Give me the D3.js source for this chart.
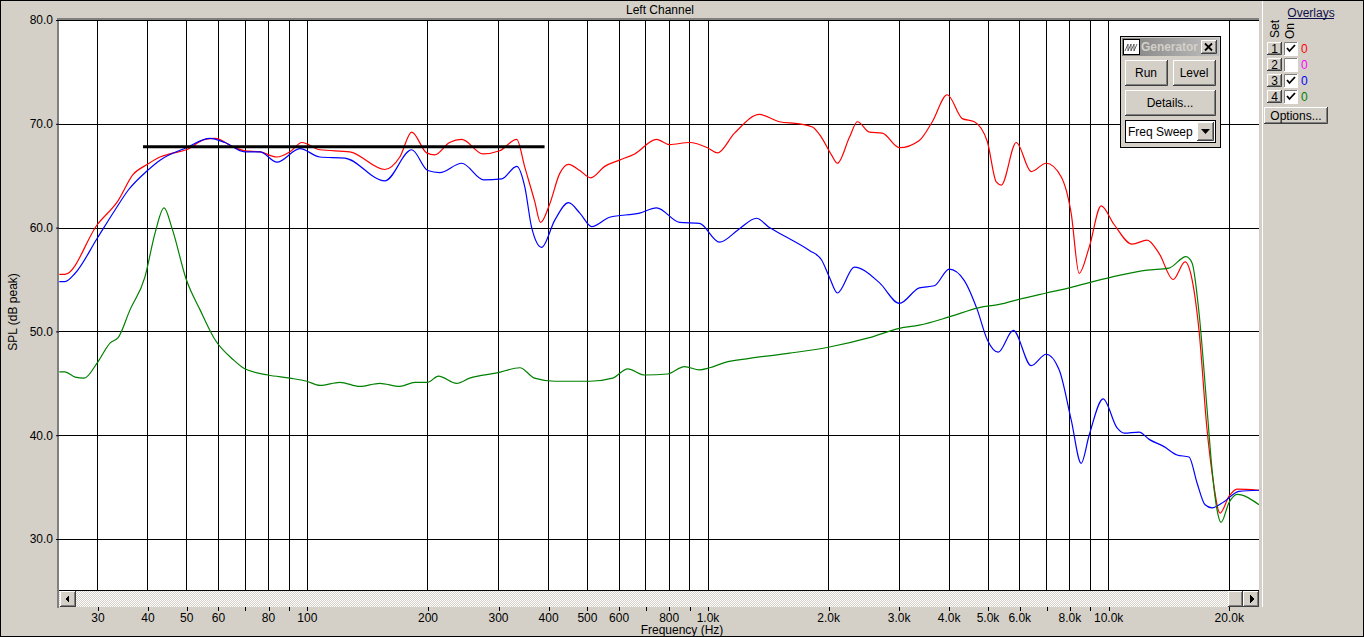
<!DOCTYPE html>
<html><head><meta charset="utf-8">
<script src="https://cdn.jsdelivr.net/npm/d3@7"></script>
<style>
body{margin:0;background:#d4d0c8;overflow:hidden}
text{font-family:"Liberation Sans",Arial,sans-serif;font-size:12px}
</style>
</head><body><svg id="c" width="1364" height="637"></svg>
<script>
// ---------- DATA ----------
const redHz=[24.1,24.9,30,33.8,36.8,40,43,45.5,50,55.7,59,66.1,70,76.4,84.2,90.7,97.2,107.8,128,156.5,170.6,182.7,199,208.5,227,243.5,275,303,334,350,370,383,404,427.5,450,480,511,554,603,658,746,804,902,1000,1059,1168,1348,1512,1696,1828,1925,2039,2110,2261,2367,2535,2732,3012,3379,3640,3967,4325,4634,4993,5257,5411,5898,6427,7004,7634,8085,8465,8966,9606,10350,11480,12510,13410,14530,15560,16200,16860,17660,18170,19030,20030,20970,23800];
const redDb=[55.5,55.5,60.3,62.6,65.1,66.1,66.8,67.1,67.5,68.5,68.6,67.7,67.4,67.3,66.8,67.3,68.2,67.5,67.3,65.6,66.8,69.2,67.2,67.0,68.2,68.5,67.1,67.4,68.5,65.8,62.6,60.5,62.3,65.2,66.1,65.5,64.8,65.9,66.5,67.1,68.5,68.0,68.2,67.7,67.2,69.1,70.9,70.2,70.0,69.7,68.7,67.0,66.2,68.7,70.2,69.2,69.1,67.7,68.4,70.2,72.8,70.5,70.2,68.3,64.4,64.1,68.2,65.4,66.2,64.9,61.4,55.6,58.1,62.1,60.3,58.4,58.8,57.5,55.0,56.7,55.0,50.1,40.5,36.4,32.5,34.1,34.8,34.7];

const blueHz=[24.1,24.9,26.4,30,33.2,35.8,40,43,50,57.3,62.4,70,76.4,84.2,96.1,107.8,124.4,156.5,182.7,200.3,214.6,243.5,276.4,306.4,334,350,364,385.5,415.5,450,480,514,570,677,746,852,955,1071,1202,1325,1427,1556,1796,1925,2016,2110,2326,2685,3012,3379,3683,4013,4375,4713,4993,5318,5797,6427,7004,7546,8085,8563,8966,9717,10530,10960,11950,12660,13790,14860,15920,16670,17460,18170,19470,21210,23800];
const blueDb=[54.8,54.8,55.6,59.0,61.7,63.6,65.5,66.5,67.7,68.6,68.2,67.3,67.3,66.3,67.6,66.8,66.7,64.5,67.5,65.5,65.3,66.2,64.6,64.7,65.9,63.9,60.0,58.1,60.7,62.4,61.4,60.1,61.0,61.4,61.9,60.5,60.4,58.6,59.9,60.9,60.0,59.2,57.8,56.9,55.2,53.7,56.2,54.7,52.7,54.2,54.4,56.0,54.9,52.1,49.2,48.0,50.1,46.7,47.8,46.3,41.5,37.3,40.0,43.5,40.7,40.2,40.3,39.6,38.9,38.1,37.9,35.4,33.3,33.0,33.6,34.6,34.7];

const greenHz=[24.1,24.9,26.4,27.8,30,32.3,33.8,36.2,39.4,41.8,44.0,46.1,50,54.1,59,65.4,70,80,90.7,100,107.8,120.9,135.6,152,170.6,186,200.3,213,236.6,255,298,340,370,415.5,508,580,632,697,795,876,955,1012,1103,1273,1602,2016,2535,3012,3379,4013,4768,5349,6000,7004,7992,8966,10650,12510,14190,15650,16200,16860,17660,18170,18700,19130,20030,20970,23800];
const greenDb=[46.1,46.1,45.6,45.5,47.0,48.9,49.4,52.1,55.2,59.5,61.9,59.9,55.0,52.1,49.2,47.3,46.4,45.8,45.5,45.2,44.8,45.1,44.7,45.0,44.7,45.1,45.1,45.7,45.0,45.5,46.0,46.5,45.5,45.2,45.2,45.5,46.4,45.8,45.9,46.6,46.3,46.5,47.0,47.4,47.9,48.5,49.4,50.3,50.6,51.4,52.3,52.6,53.1,53.7,54.2,54.7,55.4,55.9,56.1,57.2,56.6,51.8,42.5,36.7,32.8,31.6,33.5,34.3,33.3];

const refHz=[39,392];
const refDb=[67.8,67.8];

const gridHz=[30,40,50,60,70,80,90,100,200,300,400,500,600,700,800,900,1000,2000,3000,4000,5000,6000,7000,8000,9000,10000,20000];
const labelHz=[30,40,50,60,80,100,200,300,400,500,600,800,1000,2000,3000,4000,5000,6000,8000,10000,20000];
const labelText=["30","40","50","60","80","100","200","300","400","500","600","800","1.0k","2.0k","3.0k","4.0k","5.0k","6.0k","8.0k","10.0k","20.0k"];
const yTicks=[30,40,50,60,70,80];

const overlaySets=["1","2","3","4"];
const overlayOn=[true,false,true,true];
const overlayVal=["0","0","0","0"];
const overlayColors=["#ff0000","#ff00ff","#0000ff","#008000"];

// ---------- LAYOUT ----------
const W=1364,H=637;
const PL=59,PR=1259,PT=20,PB=590;
const svg=d3.select("#c");
const face="#d4d0c8";

const x=d3.scaleLog().domain([24.06,23800]).range([PL,PR]);
const y=d3.scaleLinear().domain([25.09,80]).range([PB,PT]);

const defs=svg.append("defs");
const pat=defs.append("pattern").attr("id","hatch").attr("width",2).attr("height",2).attr("patternUnits","userSpaceOnUse");
pat.append("rect").attr("width",2).attr("height",2).attr("fill",face);
pat.append("rect").attr("width",1).attr("height",1).attr("fill","#fff");
pat.append("rect").attr("x",1).attr("y",1).attr("width",1).attr("height",1).attr("fill","#fff");
defs.append("clipPath").attr("id","plotclip").append("rect").attr("x",PL-2).attr("y",PT).attr("width",PR-PL+2).attr("height",PB-PT);
const grad=defs.append("linearGradient").attr("id","tb");
grad.append("stop").attr("offset","0").attr("stop-color","#808080");
grad.append("stop").attr("offset","1").attr("stop-color","#c0c0c0");

// background + outer border
svg.append("rect").attr("x",0.5).attr("y",0.5).attr("width",W-1).attr("height",H-1).attr("fill",face).attr("stroke","#000");

// splitter line for side panel
svg.append("line").attr("x1",1262.5).attr("x2",1262.5).attr("y1",1).attr("y2",607).attr("stroke","#fff");

// plot frame (sunken)
svg.append("rect").attr("x",57).attr("y",18).attr("width",PR-57).attr("height",2).attr("fill","#808080");
svg.append("rect").attr("x",57).attr("y",18).attr("width",2).attr("height",590).attr("fill","#808080");
svg.append("rect").attr("x",PL).attr("y",PT).attr("width",PR-PL).attr("height",PB-PT).attr("fill","#fff");

// gridlines
const grid=svg.append("g").attr("shape-rendering","crispEdges");
grid.selectAll("line.v").data(gridHz).join("line").attr("class","v")
  .attr("x1",d=>Math.round(x(d))+0.5).attr("x2",d=>Math.round(x(d))+0.5)
  .attr("y1",PT).attr("y2",PB).attr("stroke","#000");
grid.selectAll("line.h").data(yTicks).join("line").attr("class","h")
  .attr("x1",PL).attr("x2",PR).attr("y1",d=>Math.round(y(d))+0.5).attr("y2",d=>Math.round(y(d))+0.5).attr("stroke","#000");

// curves
const line=d3.line().x(d=>x(d[0])).y(d=>y(d[1])).curve(d3.curveMonotoneX);
const curves=svg.append("g").attr("clip-path","url(#plotclip)");
const series=[[redHz,redDb,"#ff0000"],[blueHz,blueDb,"#0000ff"],[greenHz,greenDb,"#008000"]];
series.forEach(([hz,db,col])=>{
  curves.append("path").datum(hz.map((h,i)=>[h,db[i]]))
    .attr("d",line).attr("fill","none").attr("stroke",col).attr("stroke-width",1.2);
});
curves.append("path").datum(refHz.map((h,i)=>[h,refDb[i]]))
  .attr("d",d3.line().x(d=>x(d[0])).y(d=>y(d[1])))
  .attr("stroke","#000").attr("stroke-width",3).attr("fill","none");

// y axis
const yAxis=svg.append("g").attr("transform",`translate(${PL},0)`)
  .call(d3.axisLeft(y).tickValues(yTicks).tickFormat(d3.format(".1f")).tickSize(3).tickPadding(3));
yAxis.select(".domain").remove();
yAxis.selectAll("text").attr("font-size",12).attr("font-family","Liberation Sans, Arial, sans-serif").attr("fill","#000");
yAxis.selectAll("line").attr("stroke","#000");

// scrollbar
svg.append("rect").attr("x",PL).attr("y",PB).attr("width",PR-PL).attr("height",17).attr("fill","url(#hatch)");
svg.append("line").attr("x1",PL).attr("x2",PR).attr("y1",PB+0.5).attr("y2",PB+0.5).attr("stroke","#000");

function raised(g,bx,by,bw,bh){
  g.append("rect").attr("x",bx).attr("y",by).attr("width",bw).attr("height",bh).attr("fill",face);
  g.append("path").attr("d",`M${bx+0.5},${by+bh-1}V${by+0.5}H${bx+bw-1}`).attr("stroke","#fff").attr("fill","none");
  g.append("path").attr("d",`M${bx},${by+bh-0.5}H${bx+bw-0.5}V${by}`).attr("stroke","#404040").attr("fill","none");
  g.append("path").attr("d",`M${bx+1},${by+bh-1.5}H${bx+bw-1.5}V${by+1}`).attr("stroke","#808080").attr("fill","none");
}
function sunken(g,bx,by,bw,bh,fill){
  g.append("rect").attr("x",bx).attr("y",by).attr("width",bw).attr("height",bh).attr("fill",fill);
  g.append("path").attr("d",`M${bx+0.5},${by+bh}V${by+0.5}H${bx+bw}`).attr("stroke","#808080").attr("fill","none");
  g.append("path").attr("d",`M${bx},${by+bh-0.5}H${bx+bw-0.5}V${by}`).attr("stroke","#fff").attr("fill","none");
}
const ui=svg.append("g").attr("shape-rendering","crispEdges");
raised(ui,60,591,16,16);
ui.append("path").attr("d","M65,599L69,595V603Z").attr("fill","#000");
raised(ui,1228,591,15,16);
raised(ui,1243,591,16,16);
ui.append("path").attr("d","M1254,599L1250,595V603Z").attr("fill","#000");

// x axis (ticks under scrollbar)
const labelMap=new Map(labelHz.map((h,i)=>[h,labelText[i]]));
const xAxis=svg.append("g").attr("transform","translate(0,607)")
  .call(d3.axisBottom(x).tickValues(gridHz).tickFormat(d=>labelMap.get(d)||"").tickSize(4).tickPadding(2));
xAxis.select(".domain").remove();
xAxis.selectAll("line").attr("stroke","#000").attr("shape-rendering","crispEdges")
  .attr("transform","translate(0.5,0)");
xAxis.selectAll("text").attr("font-size",12).attr("font-family","Liberation Sans, Arial, sans-serif").attr("fill","#000");

// titles
svg.append("text").attr("x",660).attr("y",14).attr("text-anchor","middle").text("Left Channel");
svg.append("text").attr("x",682).attr("y",634).attr("text-anchor","middle").text("Frequency (Hz)");
svg.append("text").attr("transform","translate(17,312) rotate(-90)").attr("text-anchor","middle").text("SPL (dB peak)");

// generator panel
const gp=svg.append("g");
gp.append("rect").attr("x",1120.5).attr("y",36.5).attr("width",100).attr("height",111).attr("fill",face).attr("stroke","#000");
gp.append("rect").attr("x",1122).attr("y",38).attr("width",97).attr("height",18).attr("fill","url(#tb)");
gp.append("rect").attr("x",1123.5).attr("y",39.5).attr("width",16).attr("height",15).attr("fill","#fff").attr("stroke","#000");
gp.append("path").attr("d","M1125,51L1128,44L1128,51L1131,44L1131,51L1134,44L1134,51L1137,44").attr("stroke","#404040").attr("fill","none").attr("stroke-width",0.8);
gp.append("text").attr("x",1141).attr("y",51).attr("font-weight","bold").attr("font-size",11)
  .attr("textLength",57).attr("lengthAdjust","spacingAndGlyphs").attr("fill","#d4d0c8").text("Generator");
raised(gp,1201,40,16,14);
gp.append("path").attr("d","M1205,43.5L1212,50.5M1212,43.5L1205,50.5").attr("stroke","#000").attr("stroke-width",1.8);
raised(gp,1125,60,43,26);
gp.append("text").attr("x",1146).attr("y",77).attr("text-anchor","middle").text("Run");
raised(gp,1173,60,43,26);
gp.append("text").attr("x",1194).attr("y",77).attr("text-anchor","middle").text("Level");
raised(gp,1125,90,91,26);
gp.append("text").attr("x",1170).attr("y",107).attr("text-anchor","middle").text("Details...");
gp.append("rect").attr("x",1125.5).attr("y",120.5).attr("width",90).attr("height",22).attr("fill","#fff").attr("stroke","#000");
gp.append("text").attr("x",1128).attr("y",136).text("Freq Sweep");
raised(gp,1197,122,17,19);
gp.append("path").attr("d","M1201,129H1210L1205.5,134Z").attr("fill","#000");

// overlays panel
const op=svg.append("g");
op.append("text").attr("x",1311).attr("y",17).attr("text-anchor","middle").attr("fill","#10104a").text("Overlays");
op.append("line").attr("x1",1288).attr("x2",1334).attr("y1",18.5).attr("y2",18.5).attr("stroke","#10104a");
op.append("text").attr("transform","translate(1279,29) rotate(-90)").attr("text-anchor","middle").text("Set");
op.append("text").attr("transform","translate(1294,31) rotate(-90)").attr("text-anchor","middle").text("On");
overlaySets.forEach((s,i)=>{
  const y0=42+16*i;
  raised(op,1267,y0,15,13);
  op.append("text").attr("x",1274.5).attr("y",y0+11).attr("text-anchor","middle").text(s);
  sunken(op,1284,y0,14,14,"#fff");
  if(overlayOn[i]) op.append("path").attr("d",`M1287,${y0+6}L1289.5,${y0+9}L1295,${y0+3}`).attr("stroke","#000").attr("stroke-width",1.8).attr("fill","none");
  op.append("text").attr("x",1301).attr("y",y0+11).attr("fill",overlayColors[i]).text(overlayVal[i]);
});
raised(op,1264,107,64,17);
op.append("text").attr("x",1296).attr("y",120).attr("text-anchor","middle").text("Options...");
</script></body></html>
